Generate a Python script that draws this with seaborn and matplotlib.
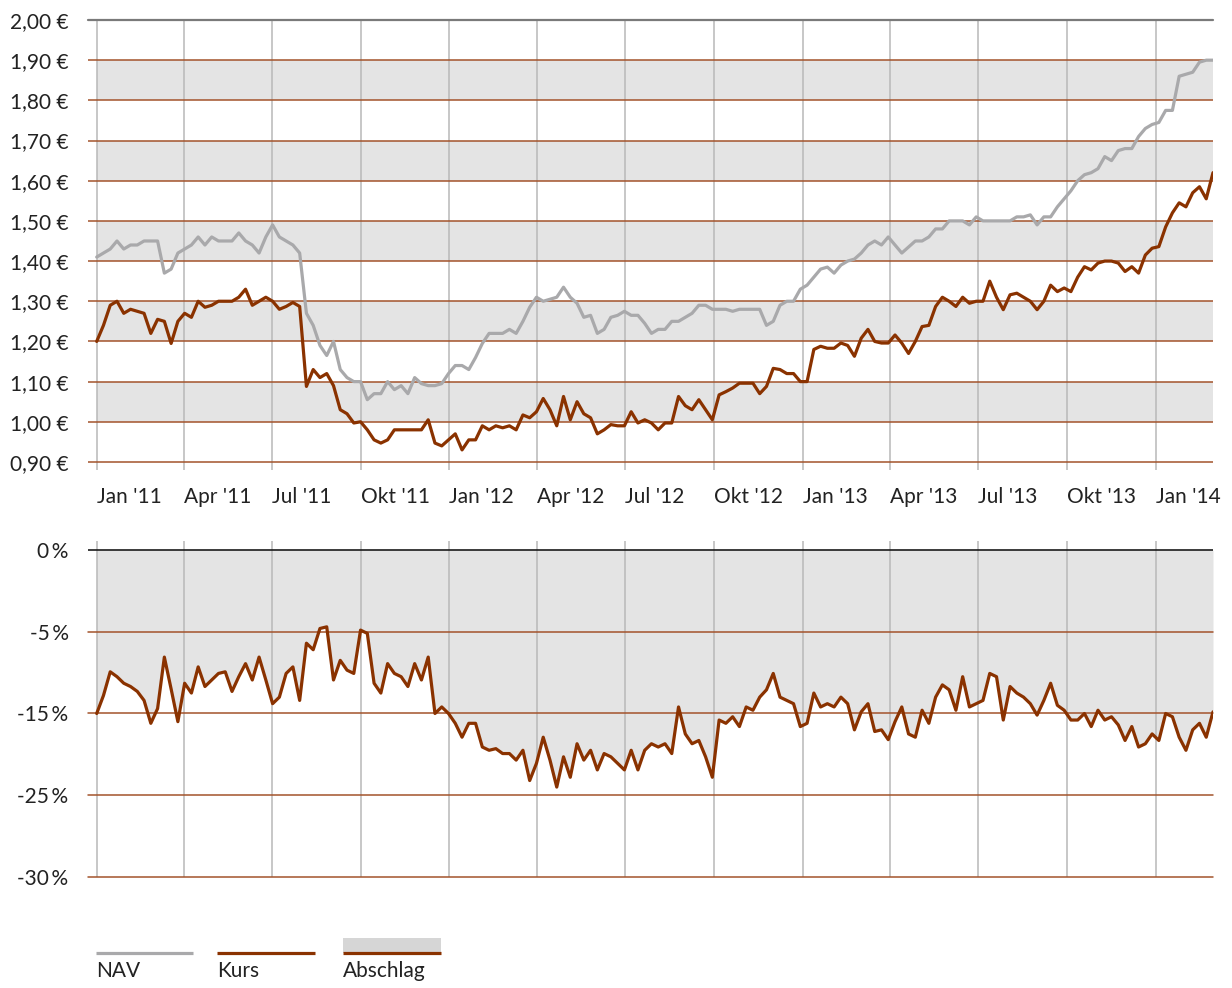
"""
NAV, Kurs und Abschlag - Fondschart mit zwei Panels
"""

import matplotlib.pyplot as plt
import seaborn as sns
import numpy as np
import pandas as pd

dates = pd.date_range('2011-01-01', periods=166, freq='7D')

nav = [1.41, 1.42, 1.43, 1.45, 1.43, 1.44, 1.44, 1.45, 1.45, 1.45,
       1.37, 1.38, 1.42, 1.43, 1.44, 1.46, 1.44, 1.46, 1.45, 1.45,
       1.45, 1.47, 1.45, 1.44, 1.42, 1.46, 1.49, 1.46, 1.45, 1.44,
       1.42, 1.27, 1.24, 1.19, 1.165, 1.20, 1.13, 1.11, 1.10, 1.10,
       1.055, 1.07, 1.07, 1.10, 1.08, 1.09, 1.07, 1.11, 1.095, 1.09,
       1.09, 1.095, 1.12, 1.14, 1.14, 1.13, 1.16, 1.195, 1.22, 1.22,
       1.22, 1.23, 1.22, 1.25, 1.285, 1.31, 1.30, 1.305, 1.31, 1.335,
       1.31, 1.295, 1.26, 1.265, 1.22, 1.23, 1.26, 1.265, 1.275, 1.265,
       1.265, 1.245, 1.22, 1.23, 1.23, 1.25, 1.25, 1.26, 1.27, 1.29,
       1.29, 1.28, 1.28, 1.28, 1.275, 1.28, 1.28, 1.28, 1.28, 1.24,
       1.25, 1.29, 1.30, 1.30, 1.33, 1.34, 1.36, 1.38, 1.385, 1.37,
       1.39, 1.40, 1.405, 1.42, 1.44, 1.45, 1.44, 1.46, 1.44, 1.42,
       1.435, 1.45, 1.45, 1.46, 1.48, 1.48, 1.50, 1.50, 1.50, 1.49,
       1.51, 1.50, 1.50, 1.50, 1.50, 1.50, 1.51, 1.51, 1.515, 1.49,
       1.51, 1.51, 1.535, 1.555, 1.575, 1.60, 1.615, 1.62, 1.63, 1.66,
       1.65, 1.675, 1.68, 1.68, 1.71, 1.73, 1.74, 1.745, 1.775, 1.775,
       1.86, 1.865, 1.87, 1.895, 1.90, 1.90]

kurs = [1.20, 1.24, 1.29, 1.30, 1.27, 1.28, 1.275, 1.27, 1.22, 1.255,
        1.25, 1.195, 1.25, 1.27, 1.26, 1.30, 1.285, 1.29, 1.30, 1.30,
        1.30, 1.31, 1.33, 1.29, 1.30, 1.31, 1.30, 1.28, 1.287, 1.297,
        1.287, 1.088, 1.13, 1.11, 1.12, 1.09, 1.03, 1.02, 0.997, 1.00,
        0.98, 0.955, 0.947, 0.955, 0.98, 0.98, 0.98, 0.98, 0.98, 1.005,
        0.947, 0.94, 0.955, 0.97, 0.93, 0.955, 0.955, 0.99, 0.98, 0.99,
        0.985, 0.99, 0.98, 1.017, 1.01, 1.025, 1.058, 1.03, 0.99, 1.063,
        1.005, 1.05, 1.02, 1.01, 0.97, 0.98, 0.993, 0.99, 0.99, 1.025,
        0.997, 1.005, 0.997, 0.98, 0.997, 0.997, 1.063, 1.04, 1.03, 1.055,
        1.03, 1.005, 1.067, 1.075, 1.084, 1.096, 1.096, 1.096, 1.07, 1.088,
        1.133, 1.13, 1.12, 1.12, 1.10, 1.10, 1.18, 1.188, 1.183, 1.183,
        1.196, 1.19, 1.163, 1.208, 1.23, 1.20, 1.196, 1.196, 1.216, 1.196,
        1.17, 1.20, 1.237, 1.24, 1.287, 1.31, 1.30, 1.287, 1.31, 1.295,
        1.30, 1.30, 1.35, 1.31, 1.279, 1.316, 1.32, 1.31, 1.30, 1.279,
        1.30, 1.34, 1.324, 1.333, 1.324, 1.36, 1.386, 1.378, 1.395, 1.40,
        1.40, 1.395, 1.374, 1.386, 1.37, 1.415, 1.432, 1.436, 1.485, 1.52,
        1.545, 1.535, 1.57, 1.585, 1.555, 1.62]

abschlag = [-15.0, -12.8, -9.9, -10.5, -11.3, -11.7, -12.3, -13.4, -16.2, -14.4,
            -8.1, -12.0, -16.0, -11.3, -12.5, -9.3, -11.7, -10.9, -10.1, -9.9,
            -12.3, -10.5, -8.9, -10.9, -8.1, -10.9, -13.8, -13.0, -10.1, -9.3,
            -13.4, -6.4, -7.2, -4.6, -4.4, -10.9, -8.5, -9.7, -10.1, -4.8,
            -5.2, -11.3, -12.5, -8.9, -10.1, -10.5, -11.7, -8.9, -10.9, -8.1,
            -15.0, -14.2, -15.0, -16.2, -17.9, -16.2, -16.2, -19.1, -19.5, -19.3,
            -19.9, -19.9, -20.7, -19.5, -23.2, -21.1, -17.9, -20.7, -24.0, -20.3,
            -22.8, -18.7, -20.7, -19.5, -21.9, -19.9, -20.3, -21.1, -21.9, -19.5,
            -21.9, -19.5, -18.7, -19.1, -18.7, -19.9, -14.2, -17.5, -18.7, -18.3,
            -20.3, -22.8, -15.8, -16.2, -15.4, -16.6, -14.2, -14.6, -13.0, -12.1,
            -10.1, -13.0, -13.4, -13.8, -16.6, -16.2, -12.5, -14.2, -13.8, -14.2,
            -13.0, -13.8, -17.0, -14.8, -13.8, -17.2, -17.0, -18.2, -16.0, -14.2,
            -17.5, -17.9, -14.6, -16.2, -13.0, -11.5, -12.1, -14.6, -10.5, -14.2,
            -13.8, -13.4, -10.1, -10.5, -15.8, -11.7, -12.5, -13.0, -13.8, -15.2,
            -13.4, -11.3, -14.0, -14.6, -15.8, -15.8, -15.0, -16.6, -14.6, -15.8,
            -15.4, -16.4, -18.3, -16.6, -19.1, -18.7, -17.5, -18.3, -15.0, -15.4,
            -17.9, -19.5, -17.0, -16.2, -17.9, -14.8]

quarters = pd.date_range('2011-01-01', '2014-01-01', freq='QS')
quarter_labels = ["Jan '11", "Apr '11", "Jul '11", "Okt '11",
                  "Jan '12", "Apr '12", "Jul '12", "Okt '12",
                  "Jan '13", "Apr '13", "Jul '13", "Okt '13", "Jan '14"]

euro_ticks = [0.90, 1.00, 1.10, 1.20, 1.30, 1.40, 1.50, 1.60, 1.70, 1.80, 1.90, 2.00]
band_lows = [1.00, 1.20, 1.40, 1.60, 1.80]

# Achse ist so skaliert wie im Original: Beschriftung 0 % / -30 % sitzt bei +5 / -35
pct_ticks = [5, -5, -15, -25, -35]
pct_labels = ['0\u2009%', '-5\u2009%', '-15\u2009%', '-25\u2009%', '-30\u2009%']

GREY = '#a9a9ab'
RUST = '#8a3200'
BAND = '#e4e4e4'
BROWN = '#a3532b'
VGRID = '#b8b8b8'
TEXT = '#222222'

XMIN = pd.Timestamp('2010-12-23')
XMAX = pd.Timestamp('2014-03-01')

sns.set_theme(style='white')
plt.rcParams['font.family'] = ['Lato', 'DejaVu Sans']

df = pd.DataFrame({'Datum': dates, 'NAV': nav, 'Kurs': kurs, 'Abschlag': abschlag})

W, H = 1232, 988
fig = plt.figure(figsize=(W / 100, H / 100), dpi=100)
ax1 = fig.add_axes([88 / W, 1 - 470 / H, 1125 / W, 450 / H])
ax2 = fig.add_axes([88 / W, 1 - 877 / H, 1125 / W, 336 / H])

# --- oberes Panel: NAV und Kurs ---
xstart = (pd.Timestamp('2011-01-01') - XMIN) / (XMAX - XMIN)
for lo in band_lows:
    ax1.axhspan(lo, lo + 0.1, xmin=xstart, color=BAND, lw=0, zorder=0.1)
for y in euro_ticks[:-1]:
    ax1.axhline(y, color=BROWN, lw=1.1, zorder=0.6)
ax1.axhline(2.0, color='#7a7a7a', lw=1.6, zorder=0.6, clip_on=False)

sns.lineplot(data=df, x='Datum', y='NAV', ax=ax1, color=GREY, linewidth=2.3, zorder=3)
sns.lineplot(data=df, x='Datum', y='Kurs', ax=ax1, color=RUST, linewidth=2.3, zorder=4)

ax1.set_xlim(XMIN, XMAX)
ax1.set_ylim(0.88, 2.0)
ax1.set_yticks(euro_ticks)
ax1.set_yticklabels([f'{v:.2f} €'.replace('.', ',') for v in euro_ticks])
ax1.set_xticks(quarters)
ax1.set_xticklabels(quarter_labels, ha='left')

# --- unteres Panel: Abschlag ---
ax2.fill_between(df['Datum'], df['Abschlag'], 5, color=BAND, lw=0, zorder=0.2)
for y in pct_ticks[1:]:
    ax2.axhline(y, color=BROWN, lw=1.1, zorder=0.6, clip_on=False)
ax2.axhline(5, color='#1a1a1a', lw=1.2, zorder=0.6)
sns.lineplot(data=df, x='Datum', y='Abschlag', ax=ax2, color=RUST, linewidth=2.3, zorder=4)

ax2.set_xlim(XMIN, XMAX)
ax2.set_ylim(-35, 6.1)
ax2.set_yticks(pct_ticks)
ax2.set_yticklabels(pct_labels)
ax2.set_xticks(quarters)
ax2.set_xticklabels([])

for ax in (ax1, ax2):
    ax.set_axisbelow(True)
    ax.grid(axis='x', color=VGRID, lw=1.1)
    ax.grid(axis='y', visible=False)
    for s in ax.spines.values():
        s.set_visible(False)
    ax.set_xlabel('')
    ax.set_ylabel('')
    ax.tick_params(axis='y', length=0, pad=14, labelsize=15, labelcolor=TEXT)
    ax.tick_params(axis='x', length=0, pad=12, labelsize=15, labelcolor=TEXT)

# --- Legende ---
lax = fig.add_axes([0, 0, 1, 60 / H])
lax.set_xlim(0, W)
lax.set_ylim(H, H - 60)
lax.axis('off')
lax.plot([96, 193], [953, 953], color=GREY, lw=2.3, solid_capstyle='butt')
lax.plot([217, 315], [953, 953], color=RUST, lw=2.3, solid_capstyle='butt')
lax.fill_between([343, 441], 938, 953, color='#d6d6d6', lw=0)
lax.plot([343, 441], [953, 953], color=RUST, lw=2.3, solid_capstyle='butt')
for x, label in [(96, 'NAV'), (217, 'Kurs'), (343, 'Abschlag')]:
    lax.text(x, 971, label, ha='left', va='center', fontsize=15, color=TEXT)

fig.savefig('out.png', dpi=100)
